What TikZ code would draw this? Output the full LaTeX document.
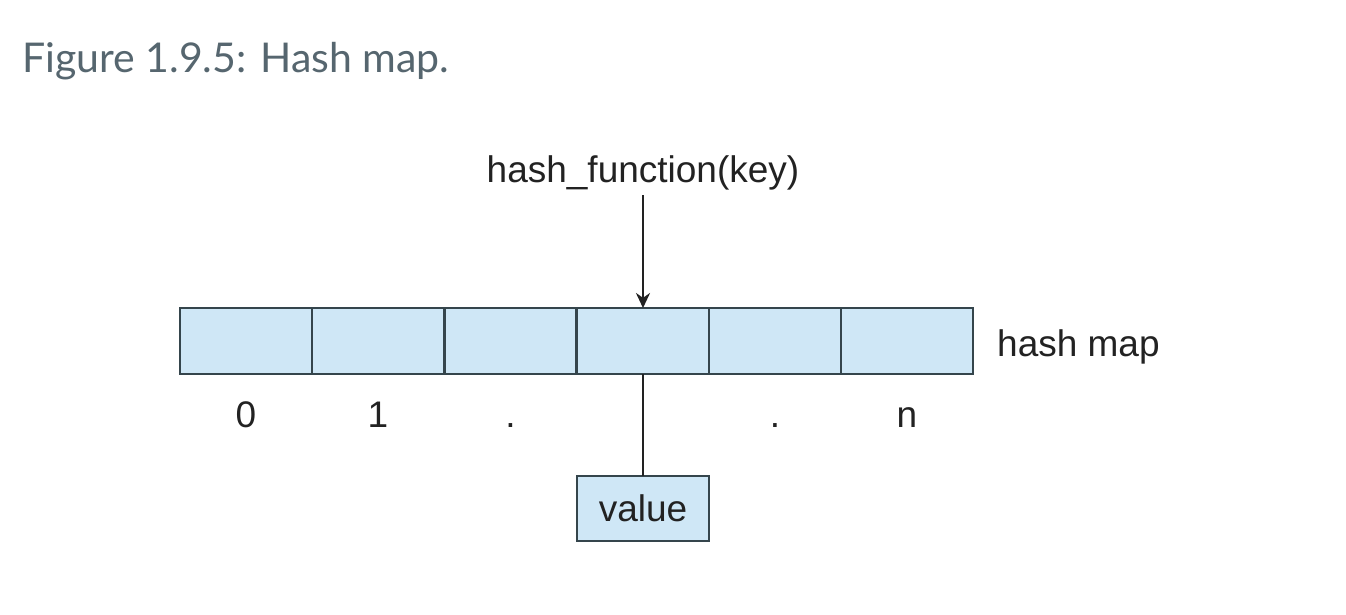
\documentclass[tikz,border=0pt]{standalone}
\usepackage{fontspec}
\setmainfont{Liberation Sans}
\newfontfamily\titlefont{Lato}
\usetikzlibrary{arrows.meta}
\definecolor{cellfill}{HTML}{CFE7F6}
\definecolor{cellline}{HTML}{35454C}
\definecolor{inktext}{HTML}{222222}
\definecolor{titlegray}{HTML}{56666F}
\begin{document}
\begin{tikzpicture}[x=1pt,y=-1pt,
  cell/.style={draw=cellline, fill=cellfill, line width=2.4pt, minimum width=132pt, minimum height=66pt, inner sep=0pt, outer sep=0pt},
  lbl/.style={text=inktext, font=\fontsize{37}{44}\selectfont, inner sep=0pt, anchor=base},
  conn/.style={draw=inktext, line width=2.8pt}]
\useasboundingbox[fill=white] (0,0) rectangle (1346,614);
\node[anchor=base west, inner sep=0pt, text=titlegray, font=\titlefont\fontsize{41}{50}\selectfont] (title) at (22,72) {Figure 1.9.5: Hash map.};
\foreach \i/\x in {0/246,1/378,2/510.5,3/643,4/775,5/907}{
  \node[cell] (c\i) at (\x,341) {};
}
\node[lbl] (hf) at (643,182) {hash\_function(key)};
\coordinate (hfb) at (643,195);
\draw[conn, -{Stealth[length=15pt,width=14pt]}] (hfb) -- (c3.north);
\node[lbl, anchor=base west] (hm) at (997,356) {hash map};
\node[lbl] (l0) at (c0.south |- 0,427) {0};
\node[lbl] (l1) at (c1.south |- 0,427) {1};
\node[lbl] (l2) at (c2.south |- 0,427) {.};
\node[lbl] (l4) at (c4.south |- 0,427) {.};
\node[lbl] (l5) at (c5.south |- 0,427) {n};
\node[cell, text=inktext, font=\fontsize{37}{44}\selectfont, minimum height=65pt] (val) at (643,508.5) {value};
\draw[conn] (c3.south) -- (val.north);
\end{tikzpicture}
\end{document}
